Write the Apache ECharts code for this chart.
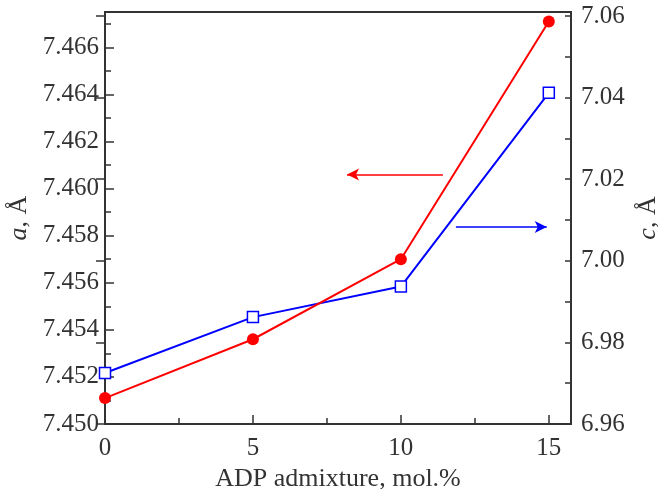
<!DOCTYPE html>
<html>
<head>
<meta charset="utf-8">
<script src="https://cdn.jsdelivr.net/npm/echarts@6/dist/echarts.min.js"></script>
<style>
  html, body { margin: 0; padding: 0; background: #fff; }
  #main { width: 658px; height: 489px; }
</style>
</head>
<body>
<div id="main"></div>
<script>
// ADP admixture, mol.%
var xValues = [0, 5, 10, 15];
// lattice parameter a, Å (left axis)
var aValues = [7.4511, 7.4536, 7.4570, 7.4671];
// lattice parameter c, Å (right axis)
var cValues = [6.9725, 6.9862, 6.9937, 7.0412];
// arrows pointing to the axis each curve belongs to: [x from, x to, y]
var arrowA = [11.42, 8.18, 7.4606];
var arrowC = [11.86, 14.93, 7.0083];

var serif = 'Liberation Serif';
var axisColor = '#333';

var myChart = echarts.init(document.getElementById('main'));

function pairs(xs, ys) {
  return xs.map(function (x, i) { return [x, ys[i]]; });
}

myChart.setOption({
  animation: false,
  grid: {
    left: 105, right: 87, top: 12, bottom: 65,
    show: true, borderColor: axisColor, borderWidth: 2,
    containLabel: false, outerBoundsMode: 'none'
  },
  xAxis: [{
    type: 'value',
    min: 0, max: 15.75, interval: 5,
    name: 'ADP admixture, mol.%',
    nameLocation: 'middle',
    nameGap: 42,
    nameTextStyle: { fontFamily: serif, fontSize: 26, color: axisColor },
    axisLine: { lineStyle: { color: axisColor, width: 2 } },
    axisTick: { inside: true, length: 9, lineStyle: { color: axisColor, width: 1.5 } },
    axisLabel: { fontFamily: serif, fontSize: 25, color: axisColor, margin: 12, showMaxLabel: false },
    splitLine: { show: false }
  }, {
    type: 'value',
    min: 0, max: 15.75, interval: 2.5,
    position: 'bottom',
    axisLine: { show: false },
    axisTick: { inside: true, length: 6, lineStyle: { color: axisColor, width: 1.5 } },
    axisLabel: { show: false },
    splitLine: { show: false }
  }],
  yAxis: [{
    type: 'value',
    min: 7.450, max: 7.4675, interval: 0.002,
    position: 'left',
    name: '{i|a}, Å',
    nameLocation: 'middle',
    nameGap: 71,
    nameRotate: 90,
    nameTextStyle: {
      fontFamily: serif, fontSize: 26, color: axisColor,
      rich: { i: { fontFamily: serif, fontSize: 26, fontStyle: 'italic', color: axisColor } }
    },
    axisLine: { lineStyle: { color: axisColor, width: 2 } },
    axisTick: { inside: true, length: 9, lineStyle: { color: axisColor, width: 1.5 } },
    axisLabel: {
      fontFamily: serif, fontSize: 25, color: axisColor, margin: 6, showMaxLabel: false,
      formatter: function (v) { return v.toFixed(3); }
    },
    splitLine: { show: false }
  }, {
    type: 'value',
    min: 6.96, max: 7.061, interval: 0.02,
    position: 'right',
    name: '{i|c}, Å',
    nameLocation: 'middle',
    nameGap: 49,
    nameRotate: 90,
    nameTextStyle: {
      fontFamily: serif, fontSize: 26, color: axisColor,
      rich: { i: { fontFamily: serif, fontSize: 26, fontStyle: 'italic', color: axisColor } }
    },
    axisLine: { lineStyle: { color: axisColor, width: 2 } },
    axisTick: { inside: true, length: 9, lineStyle: { color: axisColor, width: 1.5 } },
    axisLabel: {
      fontFamily: serif, fontSize: 25, color: axisColor, margin: 10, showMaxLabel: false,
      formatter: function (v) { return v.toFixed(2); }
    },
    splitLine: { show: false }
  }, {
    type: 'value',
    min: 7.450, max: 7.4675, interval: 0.001,
    position: 'left',
    axisLine: { show: false },
    axisTick: { inside: true, length: 6, lineStyle: { color: axisColor, width: 1.5 } },
    axisLabel: { show: false },
    splitLine: { show: false }
  }, {
    type: 'value',
    min: 6.96, max: 7.061, interval: 0.01,
    position: 'right',
    axisLine: { show: false },
    axisTick: { inside: true, length: 6, lineStyle: { color: axisColor, width: 1.5 } },
    axisLabel: { show: false },
    splitLine: { show: false }
  }],
  series: [{
    name: 'c',
    type: 'line',
    xAxisIndex: 0,
    yAxisIndex: 1,
    data: pairs(xValues, cValues),
    symbol: 'rect',
    symbolSize: 11,
    lineStyle: { color: '#0000ff', width: 2 },
    itemStyle: { color: '#ffffff', borderColor: '#0000ff', borderWidth: 1.5 },
    markLine: {
      silent: true,
      symbol: ['none', 'arrow'],
      symbolSize: [9, 12],
      label: { show: false },
      lineStyle: { color: '#0000ff', width: 1.5, type: 'solid' },
      data: [[{ coord: [arrowC[0], arrowC[2]] }, { coord: [arrowC[1], arrowC[2]] }]]
    },
    z: 2
  }, {
    name: 'a',
    type: 'line',
    xAxisIndex: 0,
    yAxisIndex: 0,
    data: pairs(xValues, aValues),
    symbol: 'circle',
    symbolSize: 12,
    lineStyle: { color: '#ff0000', width: 2 },
    itemStyle: { color: '#ff0000' },
    markLine: {
      silent: true,
      symbol: ['none', 'arrow'],
      symbolSize: [9, 12],
      label: { show: false },
      lineStyle: { color: '#ff0000', width: 1.5, type: 'solid' },
      data: [[{ coord: [arrowA[0], arrowA[2]] }, { coord: [arrowA[1], arrowA[2]] }]]
    },
    z: 3
  }]
});
</script>
</body>
</html>
